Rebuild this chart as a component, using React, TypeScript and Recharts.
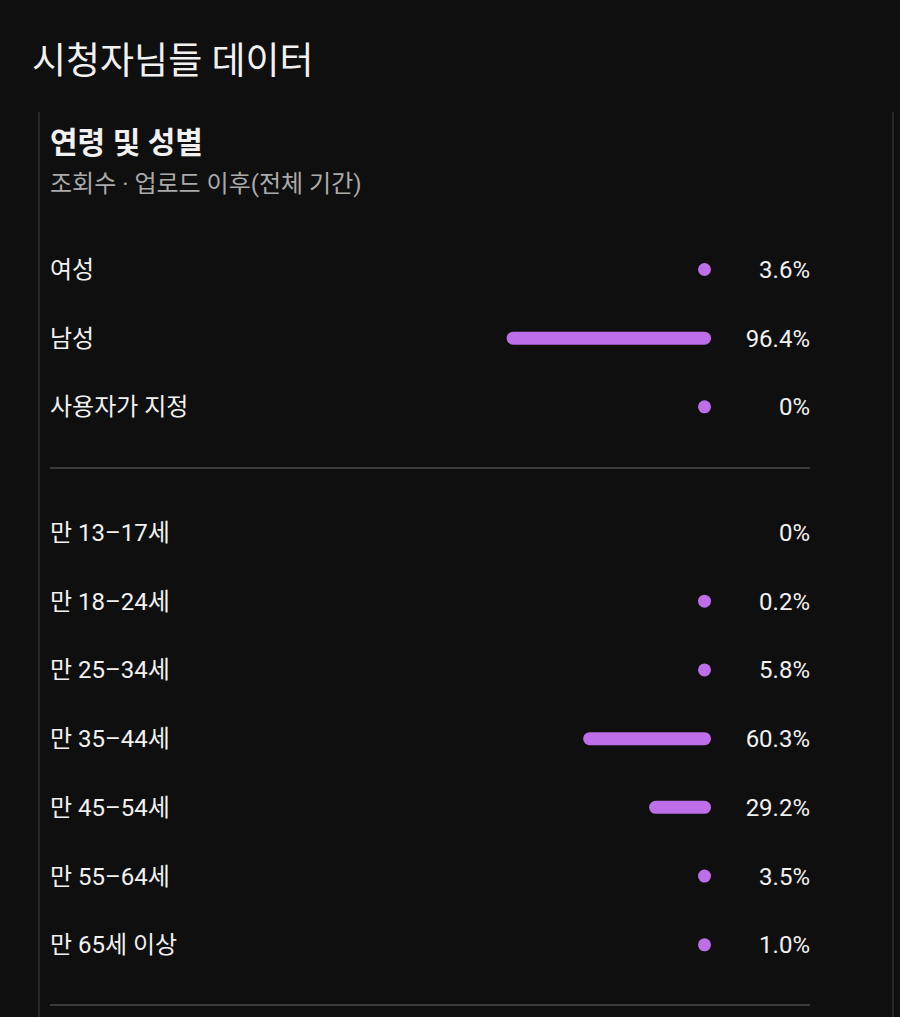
import React from 'react';
import { BarChart, Bar, XAxis, YAxis } from 'recharts';

// values
const genderLabels = ['여성', '남성', '사용자가 지정'];
const genderValues = [3.6, 96.4, 0.04];
const genderPct = ['3.6%', '96.4%', '0%'];

const ageLabels = ['만 13–17세', '만 18–24세', '만 25–34세', '만 35–44세', '만 45–54세', '만 55–64세', '만 65세 이상'];
const ageValues = [0, 0.2, 5.8, 60.3, 29.2, 3.5, 1.0];
const agePct = ['0%', '0.2%', '5.8%', '60.3%', '29.2%', '3.5%', '1.0%'];

const PURPLE = '#bd6ee8';
const BG = '#0f0f0f';
const FONT = "Roboto, 'Noto Sans CJK KR', sans-serif";

const genderData = genderLabels.map((name, i) => ({ name, value: genderValues[i], pct: genderPct[i] }));
const ageData = ageLabels.map((name, i) => ({ name, value: ageValues[i], pct: agePct[i] }));

// rounded pill, grows leftwards; tiny values still show as a dot
const PillBar = (props: any) => {
    const { x, y, width, height, payload } = props;
    if (!payload || !(payload.value > 0)) return <g />;
    const left = Math.min(x, x + width);
    const right = left + Math.abs(width);
    const w = Math.max(Math.abs(width), height);
    return <rect x={right - w} y={y} width={w} height={height} rx={height / 2} ry={height / 2} fill={PURPLE} />;
};

const makeLeftTick = () => (props: any) => (
    <text x={50} y={props.y} dy="0.36em" fill="#f1f1f1" fontSize={24} fontFamily={FONT} textAnchor="start">
        {props.payload.value}
    </text>
);

const makeRightTick = (labels: string[]) => (props: any) => {
    const idx = props.index ?? props.payload?.index ?? 0;
    return (
        <text x={810} y={props.y} dy="0.36em" fill="#f1f1f1" fontSize={24} fontFamily={FONT} textAnchor="end">
            {labels[idx]}
        </text>
    );
};

const RowChart = ({ data, pct, height }: { data: any[]; pct: string[]; height: number }) => (
    <BarChart width={900} height={height} data={data} layout="vertical" margin={{ top: 0, right: 0, bottom: 0, left: 0 }}>
        <XAxis type="number" domain={[0, 100]} reversed hide />
        <YAxis yAxisId="left" type="category" dataKey="name" width={499} axisLine={false} tickLine={false} tick={makeLeftTick()} interval={0} />
        <YAxis yAxisId="right" type="category" dataKey="name" orientation="right" width={189} axisLine={false} tickLine={false} tick={makeRightTick(pct)} interval={0} />
        <Bar yAxisId="left" dataKey="value" barSize={13} shape={PillBar} isAnimationActive={false} />
    </BarChart>
);

export default function App() {
    return (
        <div style={{ position: 'fixed', left: 0, top: 0, width: 900, height: 1017, background: BG, overflow: 'hidden', fontFamily: FONT }}>
            <div style={{ position: 'absolute', left: 32, top: 43, fontSize: 37, lineHeight: '38px', color: '#f1f1f1' }}>
                시청자님들 데이터
            </div>
            {/* panel frame */}
            <div style={{ position: 'absolute', left: 38, top: 112, width: 2, height: 920, background: '#262626' }} />
            <div style={{ position: 'absolute', left: 892, top: 112, width: 2, height: 920, background: '#262626' }} />
            <div style={{ position: 'absolute', left: 50, top: 127, fontSize: 30, lineHeight: '32px', fontWeight: 700, color: '#f1f1f1' }}>
                연령 및 성별
            </div>
            <div style={{ position: 'absolute', left: 50, top: 171, fontSize: 24, lineHeight: '27px', color: '#aaaaaa' }}>
                조회수 · 업로드 이후(전체 기간)
            </div>

            <div style={{ position: 'absolute', left: 0, top: 235 }}>
                <RowChart data={genderData} pct={genderPct} height={206} />
            </div>
            <div style={{ position: 'absolute', left: 50, top: 467, width: 760, height: 2, background: '#3a3a3a' }} />
            <div style={{ position: 'absolute', left: 0, top: 498 }}>
                <RowChart data={ageData} pct={agePct} height={481} />
            </div>
            <div style={{ position: 'absolute', left: 50, top: 1004, width: 760, height: 2, background: '#3a3a3a' }} />
        </div>
    );
}
